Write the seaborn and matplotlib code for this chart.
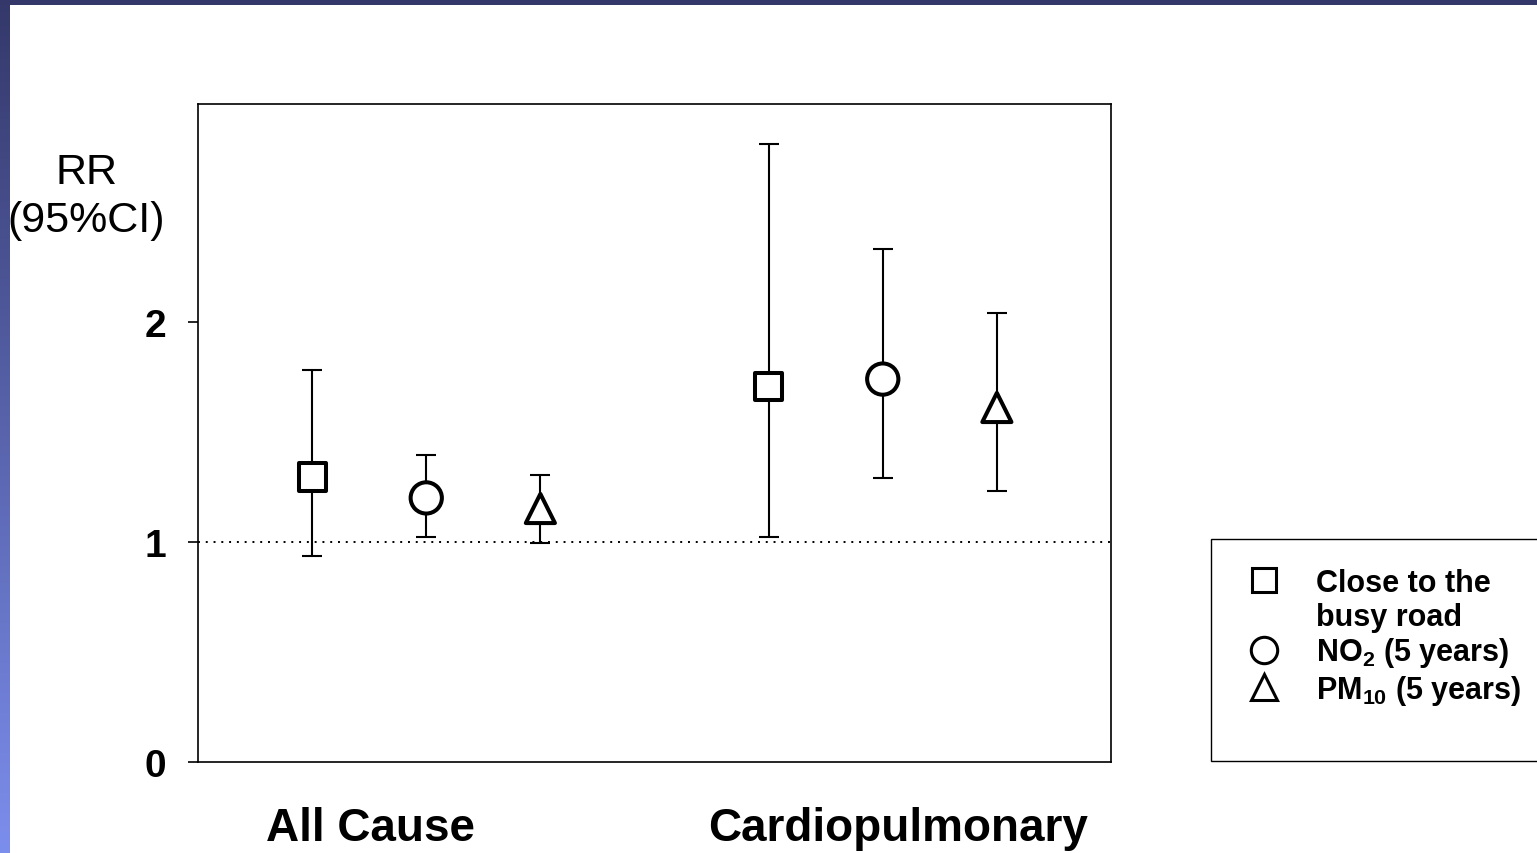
import numpy as np
import pandas as pd
import matplotlib
matplotlib.use("Agg")
import matplotlib.pyplot as plt
from matplotlib.lines import Line2D
from matplotlib.patches import Rectangle
import seaborn as sns

# ---------------- data ----------------
categories = ["All Cause", "Cardiopulmonary"]
series = ["Close to the", "busy road", "NO$_\\mathbf{2}$ (5 years)", "PM$_\\mathbf{10}$ (5 years)"]
series_key = ["road", "no2", "pm10"]
rr_all = [1.295, 1.20, 1.152]
lo_all = [0.936, 1.023, 0.995]
hi_all = [1.78, 1.395, 1.305]
rr_cp = [1.705, 1.74, 1.611]
lo_cp = [1.023, 1.29, 1.23]
hi_cp = [2.81, 2.33, 2.04]
y_ticks = [0, 1, 2]

# ---------------- styling ----------------
sns.set_theme(style="white")
plt.rcParams["font.family"] = ["Liberation Sans", "DejaVu Sans"]
plt.rcParams["text.color"] = "black"
plt.rcParams["axes.labelcolor"] = "black"
plt.rcParams["xtick.color"] = "black"
plt.rcParams["ytick.color"] = "black"
plt.rcParams["mathtext.fontset"] = "custom"
plt.rcParams["mathtext.rm"] = "Liberation Sans"
plt.rcParams["mathtext.bf"] = "Liberation Sans:bold"

W, H = 1537, 854
fig = plt.figure(figsize=(W / 100, H / 100), dpi=100)
fig.patch.set_facecolor("white")

# decorative slide bands
band = fig.add_axes([0, 0, 10 / W, 1])
grad = np.linspace(0, 1, 256)[:, None]
top_c = np.array([52, 56, 106]) / 255
bot_c = np.array([124, 142, 236]) / 255
img = top_c[None, None, :] * (1 - grad[:, :, None]) + bot_c[None, None, :] * grad[:, :, None]
band.imshow(img, aspect="auto", extent=[0, 1, 1, 0])
band.set_axis_off()
fig.add_artist(Rectangle((0, 1 - 5.5 / H), 1, 5.5 / H, transform=fig.transFigure,
                         facecolor="#34376a", edgecolor="none", zorder=5))

ax = fig.add_axes([198 / W, 1 - 763 / H, (1111 - 198) / W, (763 - 105) / H])

# positions: three series per category, one unit apart, gap between groups
pos_all = [1, 2, 3]
pos_cp = [5, 6, 7]
df = pd.DataFrame({
    "x": pos_all + pos_cp,
    "rr": rr_all + rr_cp,
    "lo": lo_all + lo_cp,
    "hi": hi_all + hi_cp,
    "series": series_key * 2,
})

ax.axhline(1, color="black", lw=1.4, ls=(0, (1, 3)), zorder=1)
ax.errorbar(df["x"], df["rr"], yerr=[df["rr"] - df["lo"], df["hi"] - df["rr"]],
            fmt="none", ecolor="black", elinewidth=1.5, capsize=7.2, capthick=1.5, zorder=2)

markers = {"road": "s", "no2": "o", "pm10": "^"}
sizes = {"road": 19.5 ** 2, "no2": 22.5 ** 2, "pm10": 21 ** 2}
sns.scatterplot(data=df, x="x", y="rr", style="series", markers=markers,
                size="series", sizes=sizes, color="white", edgecolor="black",
                linewidth=2.9, legend=False, ax=ax, zorder=3)

ax.set_xlim(0, 8)
ax.set_ylim(0, 2.99)
ax.set_yticks(y_ticks)
ax.set_yticklabels([str(t) for t in y_ticks], fontsize=28, fontweight="bold")
ax.set_xticks([1.51, 6.13])
ax.set_xticklabels(categories, fontsize=33, fontweight="bold")
ax.tick_params(axis="x", length=0, pad=32)
ax.tick_params(axis="y", length=7, width=1.2, direction="out", pad=16, left=True, color="black")
ax.set_xlabel("")
ax.set_ylabel("RR\n(95%CI)", rotation=0, fontsize=31, ha="center", va="center", linespacing=1.25)
ax.yaxis.set_label_coords(-0.122, 0.86)
for s in ax.spines.values():
    s.set_color("black")
    s.set_linewidth(1.2)

# legend
fig.add_artist(Rectangle((1211 / W, 1 - 762 / H), 400 / W, (762 - 540) / H,
                         transform=fig.transFigure, facecolor="white",
                         edgecolor="black", lw=1.0, zorder=0))
handles = [
    Line2D([], [], ls="none", marker="s", ms=17, mfc="white", mec="black", mew=2.2),
    Line2D([], [], ls="none", marker=None),
    Line2D([], [], ls="none", marker="o", ms=19, mfc="white", mec="black", mew=2.2),
    Line2D([], [], ls="none", marker="^", ms=19, mfc="white", mec="black", mew=2.2),
]
leg = fig.legend(handles, series, loc="upper left",
                 bbox_to_anchor=(1211 / W, 1 - 543 / H), frameon=False,
                 prop={"size": 22, "weight": "bold"}, handlelength=1.75,
                 handletextpad=0.83, borderpad=0.85, labelspacing=0.12,
                 borderaxespad=0)

fig.savefig("out.png", dpi=100, facecolor="white")
